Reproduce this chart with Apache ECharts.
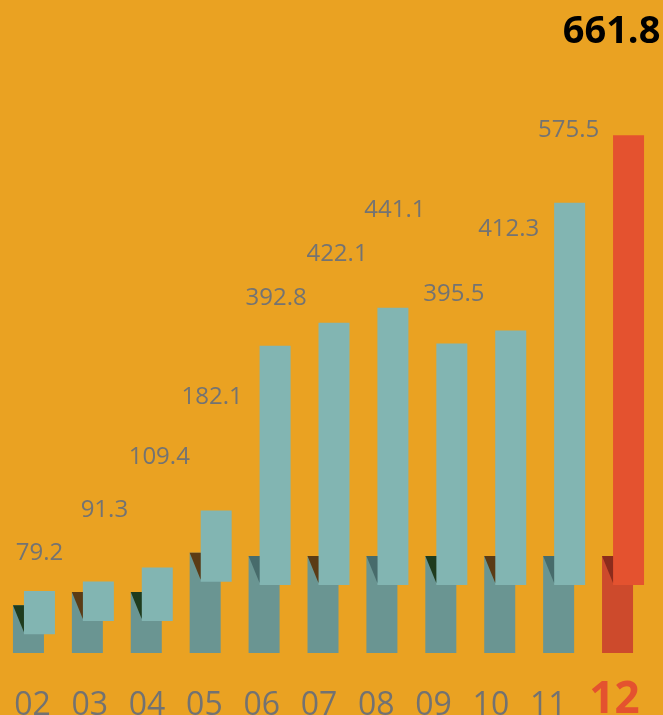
<!DOCTYPE html>
<html>
<head>
<meta charset="utf-8">
<script src="https://cdn.jsdelivr.net/npm/echarts@6/dist/echarts.min.js"></script>
<style>
  html, body { margin: 0; padding: 0; background: #EAA222; }
  #chartWrap { width: 663px; height: 715px; }
</style>
</head>
<body>
<div id="chartWrap"></div>
<script>
// 月份
const months = ["02", "03", "04", "05", "06", "07", "08", "09", "10", "11", "12"];
// 每月数值（浮起的浅色柱顶）
const totals = [79.2, 91.3, 109.4, 182.1, 392.8, 422.1, 441.1, 395.5, 412.3, 575.5, 661.8];
// 底座柱高度（深色柱）
const pedestal = [61, 78, 78, 128, 124, 124, 124, 124, 124, 124, 124];
// 浅色柱压在底座上的那一段
const overlap = 37;

const frontStart = pedestal.map(v => v - overlap);
const frontPart = totals.map((v, i) => +(v - frontStart[i]).toFixed(1));

// 样式相关
const barW = 31;
const shift = 11;
const shadeColors = ["#1F3B1D", "#5B3B15", "#1F3B1D", "#5B3B15", "#476B6B", "#5B3B15",
  "#476B6B", "#1F3B1D", "#5B3B15", "#476B6B", "#8B2C1C"];
const labelGap = [26, 59, 98, 101, 35, 57, 86, 37, 89, 61, 84];
const labelShift = [0, 6, 2, -4, 1, 3, 2, 2, -2, -1, -17];
const last = months.length - 1;

let myChart = echarts.init(document.getElementById("chartWrap"));

let opts = {
  backgroundColor: "#EAA222",
  animation: false,
  grid: [
    { left: 4.5, right: 10.5, top: 27, bottom: 62, outerBoundsMode: "none" },
    // 只用来放月份标签
    { left: 3.85, right: 28.85, top: 27, bottom: 62, outerBoundsMode: "none" }
  ],
  xAxis: [
    {
      type: "category",
      data: months,
      gridIndex: 0,
      axisLine: { show: false },
      axisTick: { show: false },
      axisLabel: { show: false }
    },
    {
      type: "category",
      data: months,
      gridIndex: 1,
      axisLine: { show: false },
      axisTick: { show: false },
      axisLabel: {
        interval: 0,
        margin: 53,
        verticalAlign: "middle",
        fontFamily: "Open Sans",
        fontSize: 32,
        color: "#727272",
        formatter: v => (v === months[last] ? "{hl|" + v + "}" : v),
        rich: {
          hl: {
            fontFamily: "Open Sans",
            fontSize: 44,
            fontWeight: "bold",
            color: "#E4522F",
            padding: [0, 0, 12, 18]
          }
        }
      }
    }
  ],
  yAxis: [
    { type: "value", min: 0, max: 800, gridIndex: 0, show: false },
    { type: "value", min: 0, max: 800, gridIndex: 1, show: false }
  ],
  series: [
    {
      name: "底座",
      type: "bar",
      stack: "back",
      barWidth: barW,
      barGap: "-64.5%",
      data: pedestal.map((v, i) => ({
        value: v,
        itemStyle: { color: i === last ? "#CD4A2C" : "#6A9592" }
      }))
    },
    {
      name: "浮起",
      type: "bar",
      stack: "front",
      barWidth: barW,
      barGap: "-64.5%",
      itemStyle: { color: "transparent" },
      silent: true,
      data: frontStart
    },
    {
      name: "数值",
      type: "bar",
      stack: "front",
      barWidth: barW,
      barGap: "-64.5%",
      data: frontPart.map((v, i) => ({
        value: v,
        itemStyle: { color: i === last ? "#E4522F" : "#82B5B2" },
        label: i === last
          ? {
              show: true,
              position: "top",
              distance: labelGap[i],
              offset: [labelShift[i], 0],
              fontFamily: "Open Sans",
              fontSize: 38,
              fontWeight: "bold",
              color: "#000"
            }
          : {
              show: true,
              position: "top",
              distance: labelGap[i],
              offset: [labelShift[i], 0]
            }
      })),
      label: {
        show: true,
        fontFamily: "Open Sans",
        fontSize: 24,
        color: "#737373",
        formatter: p => totals[p.dataIndex].toFixed(1)
      }
    },
    {
      // 底座上的小三角阴影
      name: "阴影",
      type: "custom",
      xAxisIndex: 0,
      yAxisIndex: 0,
      z: 5,
      silent: true,
      encode: { x: 0, y: [1, 2] },
      data: pedestal.map((v, i) => [i, v, frontStart[i]]),
      renderItem(params, api) {
        const top = api.coord([api.value(0), api.value(1)]);
        const bot = api.coord([api.value(0), api.value(2)]);
        const backLeft = top[0] - (barW + shift) / 2;
        const frontLeft = backLeft + shift;
        return {
          type: "polygon",
          shape: { points: [[backLeft, top[1]], [frontLeft, top[1]], [frontLeft, bot[1] - 2]] },
          style: { fill: shadeColors[params.dataIndex] }
        };
      }
    }
  ]
};

myChart.setOption(opts);
</script>
</body>
</html>
